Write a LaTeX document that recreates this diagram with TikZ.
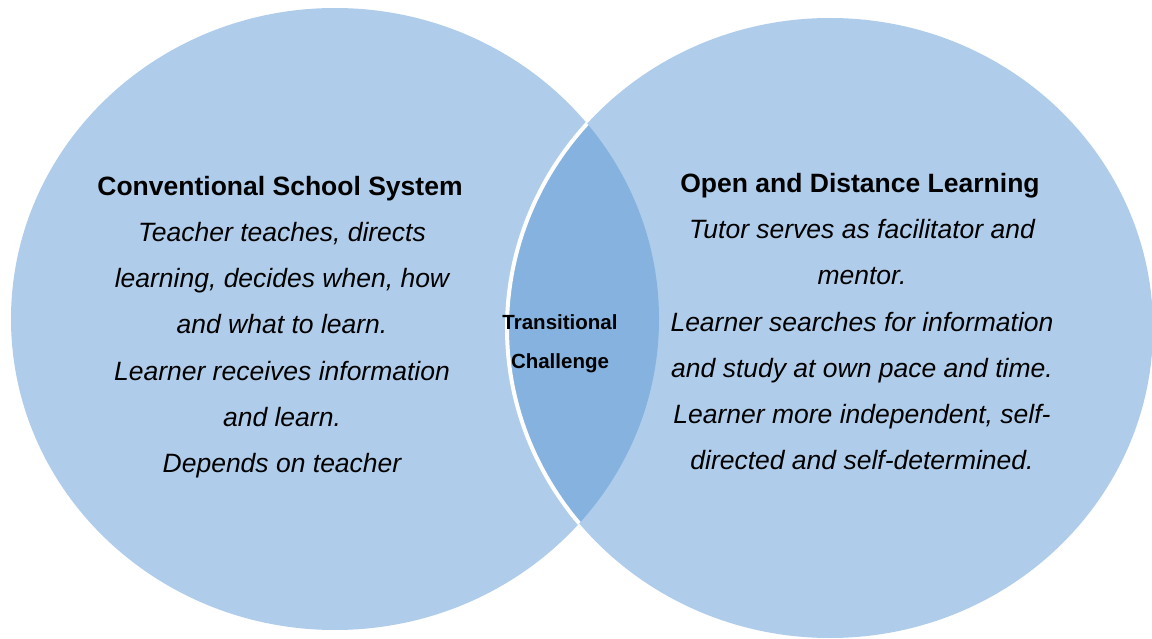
\documentclass[tikz,border=0pt]{standalone}
\usepackage{fontspec}
\setmainfont{Liberation Sans}
\definecolor{lightblue}{RGB}{175,205,234}
\definecolor{lensblue}{RGB}{133,178,222}
\tikzset{
  venn/.style={fill=lightblue},
  ttl/.style={anchor=base, font=\fontsize{26.5}{30}\selectfont\bfseries},
  body/.style={anchor=base, font=\fontsize{26.5}{30}\selectfont\itshape},
  small/.style={anchor=base, font=\fontsize{20.5}{24}\selectfont\bfseries},
}
\begin{document}
\begin{tikzpicture}[x=1pt,y=-1pt]
\useasboundingbox (0,0) rectangle (1152,639);
\def\leftell{(335,319) ellipse [x radius=324, y radius=311]}
\def\rightell{(830,328) ellipse [x radius=323, y radius=310]}
\fill[venn] \leftell;
\fill[venn] \rightell;
\begin{scope}
  \clip \rightell;
  \fill[lensblue] \leftell;
\end{scope}
\begin{scope}
  \clip \leftell;
  \draw[white, line width=4pt] \rightell;
\end{scope}
% left texts
\node[ttl]  (lt) at (280,196) {Conventional School System};
\node[body] (l1) at (282,242) {Teacher teaches, directs};
\node[body] (l2) at (282,288) {learning, decides when, how};
\node[body] (l3) at (282,334) {and what to learn.};
\node[body] (l4) at (282,380) {Learner receives information};
\node[body] (l5) at (282,426) {and learn.};
\node[body] (l6) at (282,472) {Depends on teacher};
% right texts
\node[ttl]  (rt) at (860,193) {Open and Distance Learning};
\node[body] (r1) at (862,239) {Tutor serves as facilitator and};
\node[body] (r2) at (862,285) {mentor.};
\node[body] (r3) at (862,331) {Learner searches for information};
\node[body] (r4) at (862,377) {and study at own pace and time.};
\node[body] (r5) at (862,423) {Learner more independent, self-};
\node[body] (r6) at (862,469) {directed and self-determined.};
% middle
\node[small] (m1) at (560,330) {Transitional};
\node[small] (m2) at (560,368) {Challenge};
\end{tikzpicture}
\end{document}
